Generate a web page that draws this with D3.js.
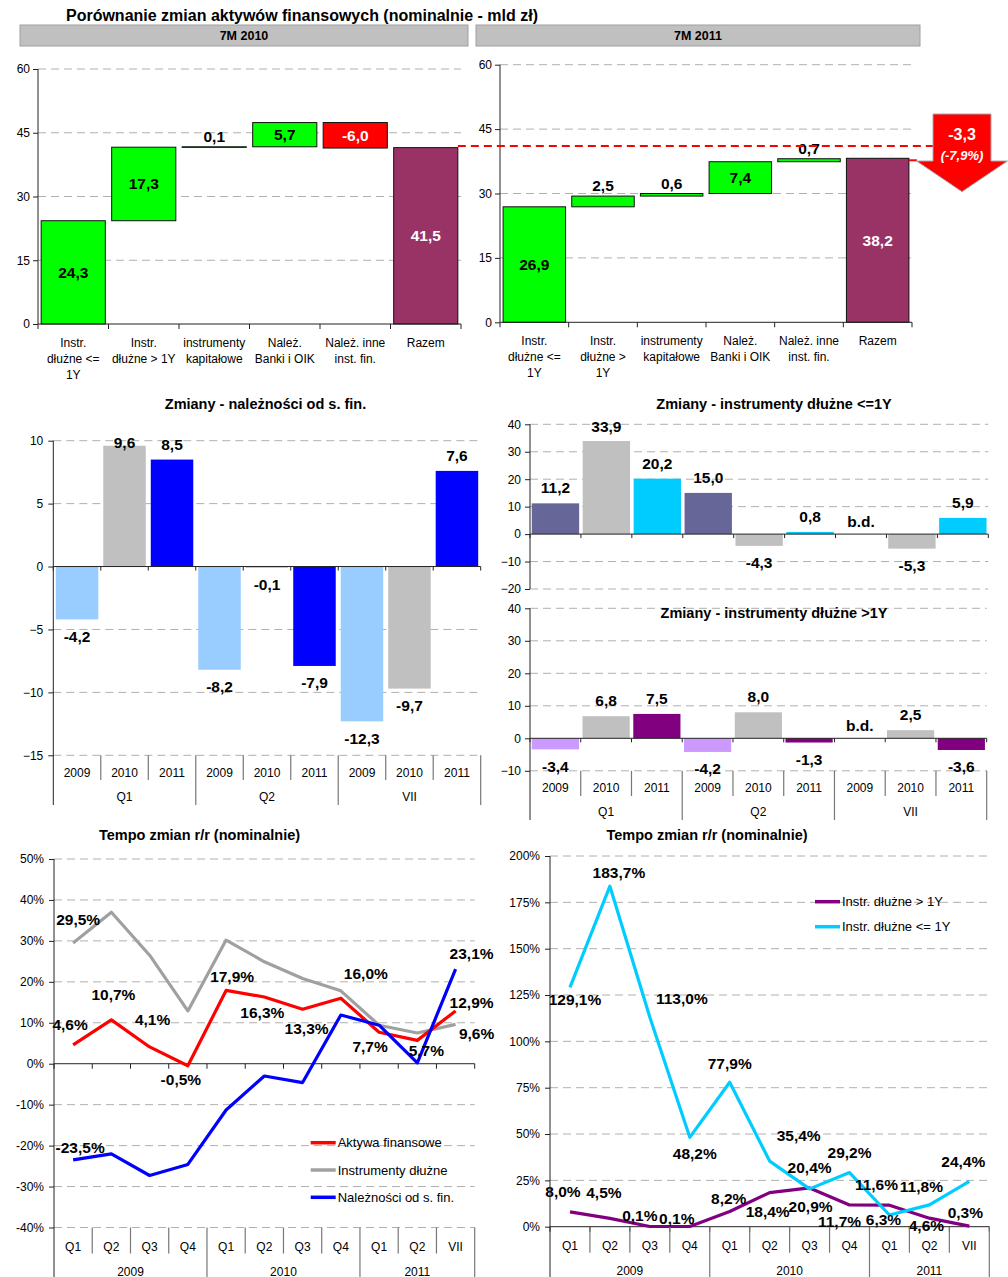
<!DOCTYPE html>
<html><head><meta charset="utf-8">
<script src="https://cdn.jsdelivr.net/npm/d3@7"></script>
<style>
body{margin:0;background:#fff;}
svg{display:block;font-family:"Liberation Sans",Arial,Helvetica,sans-serif;}
</style>
</head><body>
<svg id="c" width="1008" height="1277"></svg>
<script>
// ---------------- DATA ----------------
const tytulGlowny = "Porównanie zmian aktywów finansowych (nominalnie - mld zł)";
const naglowki = ["7M 2010", "7M 2011"];
const wfKategorie2010 = ["Instr.\ndłużne <=\n1Y","Instr.\ndłużne > 1Y","instrumenty\nkapitałowe","Należ.\nBanki i OIK","Należ. inne\ninst. fin.","Razem"];
const wfKategorie2011 = ["Instr.\ndłużne <=\n1Y","Instr.\ndłużne >\n1Y","instrumenty\nkapitałowe","Należ.\nBanki i OIK","Należ. inne\ninst. fin.","Razem"];
const wfZmiany2010 = [24.3, 17.3, 0.1, 5.7, -6.0];
const wfRazem2010 = 41.5;
const wfZmiany2011 = [26.9, 2.5, 0.6, 7.4, 0.7];
const wfRazem2011 = 38.2;
const wfTicks = [0, 15, 30, 45, 60];
const roznica = -3.3;
const roznicaPct = -7.9;

const lata = ["2009", "2010", "2011"];
const okresy = ["Q1", "Q2", "VII"];
const nalezZmiany      = [-4.2, 9.6, 8.5,  -8.2, -0.1, -7.9,  -12.3, -9.7, 7.6];
const dluzneLe1YZmiany = [11.2, 33.9, 20.2, 15.0, -4.3, 0.8,  null, -5.3, 5.9];
const dluzneGt1YZmiany = [-3.4, 6.8, 7.5,  -4.2, 8.0, -1.3,  null, 2.5, -3.6];
const nalezTicks = [-15, -10, -5, 0, 5, 10];
const le1YTicks = [-20, -10, 0, 10, 20, 30, 40];
const gt1YTicks = [-10, 0, 10, 20, 30, 40];

const kwartaly = ["Q1","Q2","Q3","Q4","Q1","Q2","Q3","Q4","Q1","Q2","VII"];
const lataKwartalow = ["2009", "2010", "2011"];
const liczbaOkresowWRoku = [4, 4, 3];
const tempoAktywa      = [4.6, 10.7, 4.1, -0.5, 17.9, 16.3, 13.3, 16.0, 7.7, 5.7, 12.9];
const tempoInstrDluzne = [29.5, 37.0, 26.5, 12.9, 30.2, 24.9, 20.8, 17.8, 9.4, 7.5, 9.6];
const tempoNalez       = [-23.5, -22.0, -27.3, -24.6, -11.3, -3.0, -4.6, 11.9, 9.4, 0.2, 23.1];
const tempoGt1Y        = [8.0, 4.5, 0.1, 0.1, 8.2, 18.4, 20.9, 11.7, 11.6, 4.6, 0.3];
const tempoLe1Y        = [129.1, 183.7, 113.0, 48.2, 77.9, 35.4, 20.4, 29.2, 6.3, 11.8, 24.4];
const tempoLewyTicks = [-40, -30, -20, -10, 0, 10, 20, 30, 40, 50];
const tempoPrawyTicks = [0, 25, 50, 75, 100, 125, 150, 175, 200];

// label placement (index, dx, dy) – offsets only
const etAktywa = [[0,-3,-20],[1,2,-25],[2,3,-27],[3,-7,14],[4,6,-14],[5,-2,16],[6,4,19],[7,25,-25],[8,-9,14],[9,9,10],[10,16,-8]];
const etInstr  = [[0,5,-23],[10,21,9]];
const etNalez  = [[0,7,-12],[10,16,-16]];
const etLe1Y = [[0,5,12],[1,9,-14],[2,32,-19],[3,5,16],[4,0,-19],[5,29,-26],[6,0,-21],[7,0,-20],[8,-6,5],[9,-8,-18],[10,-6,-20]];
const etGt1Y = [[0,-7,-20],[1,-6,-26],[2,-10,-11],[3,-13,-8],[4,-1,-13],[5,-2,19],[6,1,18.5],[7,-10,16.5],[8,-13,-21],[9,-3,7],[10,-4,-14]];

// ---------------- HELPERS ----------------
const svg = d3.select("#c");
const num = v => v.toFixed(1).replace(".", ",");
const pct = v => num(v) + "%";
const GRID = "#b0b0b0", DASH = "8,5", AX = "#222", SEP = "#777";
const LBL = 15.5;

function text(g, x, y, s, size, opts = {}) {
  return g.append("text").attr("x", x).attr("y", y).text(s)
    .attr("font-size", size).attr("text-anchor", opts.anchor || "middle")
    .attr("font-weight", opts.bold ? "bold" : "normal")
    .attr("font-style", opts.italic ? "italic" : "normal")
    .attr("fill", opts.fill || "#000")
    .attr("dy", opts.dy || null);
}

function yAxis(g, y, x0, ticks, fmt, pad, yTop, yEnd) {
  const a = d3.axisLeft(y).tickValues(ticks).tickFormat(fmt).tickSize(5).tickSizeOuter(0).tickPadding(pad);
  const ag = g.append("g").attr("transform", `translate(${x0},0)`).call(a);
  ag.select(".domain").remove();
  ag.selectAll("line").attr("stroke", AX);
  ag.selectAll("text").attr("font-size", 12).attr("font-family", null).attr("fill", "#000");
  g.append("line").attr("x1", x0).attr("x2", x0).attr("y1", yTop).attr("y2", yEnd).attr("stroke", AX);
}

function grid(g, y, ticks, x0, x1, skipZero) {
  g.selectAll(null).data(ticks.filter(t => !(skipZero && t === 0))).join("line")
    .attr("x1", x0).attr("x2", x1).attr("y1", d => y(d)).attr("y2", d => y(d))
    .attr("stroke", GRID).attr("stroke-dasharray", DASH);
}

// ---------------- TITLE + HEADERS ----------------
text(svg, 302, 21, tytulGlowny, 16, {bold: true});
const hdr = [{x: 20, w: 448, t: naglowki[0]}, {x: 476, w: 444, t: naglowki[1]}];
hdr.forEach(h => {
  svg.append("rect").attr("x", h.x).attr("y", 25).attr("width", h.w).attr("height", 21)
    .attr("fill", "#c0c0c0").attr("stroke", "#a0a0a0");
  text(svg, h.x + h.w / 2, 40, h.t, 12.5, {bold: true});
});

// ---------------- WATERFALLS ----------------
function waterfall(o) {
  const g = svg.append("g");
  const n = o.cats.length;
  const y = d3.scaleLinear().domain([0, 60]).range([o.yB, o.yT]);
  const x = d3.scaleBand().domain(d3.range(n)).range([o.x0, o.x1]).paddingInner(0.09).paddingOuter(0.045);
  grid(g, y, wfTicks.filter(t => t > 0), o.x0, o.x1, true);
  let cum = 0;
  const bars = o.deltas.map((d, i) => {
    const s = cum; cum += d;
    return {i, lo: Math.min(s, cum), hi: Math.max(s, cum), v: d,
            fill: d >= 0 ? "#00ff00" : "#ff0000", txt: d >= 0 ? "#000" : "#fff"};
  });
  bars.push({i: n - 1, lo: 0, hi: o.total, v: o.total, fill: "#993366", txt: "#fff"});
  g.selectAll(null).data(bars).join("rect")
    .attr("x", d => x(d.i)).attr("width", x.bandwidth())
    .attr("y", d => y(d.hi)).attr("height", d => Math.max(0.6, y(d.lo) - y(d.hi)))
    .attr("fill", d => d.fill).attr("stroke", "#111").attr("stroke-width", 1);
  bars.forEach(d => {
    const cx = x(d.i) + x.bandwidth() / 2;
    if (Math.abs(d.v) < 3) text(g, cx, y(d.hi) - 5, num(d.v), LBL, {bold: true});
    else text(g, cx, (y(d.hi) + y(d.lo)) / 2, num(d.v), LBL, {bold: true, fill: d.txt, dy: "0.35em"});
  });
  yAxis(g, y, o.x0, wfTicks, d3.format("d"), 3, o.yT, o.yB);
  g.append("line").attr("x1", o.x0).attr("x2", o.x1).attr("y1", o.yB).attr("y2", o.yB).attr("stroke", AX);
  d3.range(n + 1).forEach(i => {
    const bx = o.x0 + i * x.step();
    g.append("line").attr("x1", bx).attr("x2", bx).attr("y1", o.yB).attr("y2", o.yB + 5).attr("stroke", AX);
  });
  o.cats.forEach((c, i) => {
    const cx = x(i) + x.bandwidth() / 2;
    c.split("\n").forEach((ln, k) => text(g, cx, o.labY + k * 16, ln, 12));
  });
  return {x, y};
}
const wfL = waterfall({x0: 38, x1: 461, yT: 69, yB: 324, cats: wfKategorie2010, deltas: wfZmiany2010, total: wfRazem2010, labY: 347});
const wfR = waterfall({x0: 500, x1: 912, yT: 64.7, yB: 322.3, cats: wfKategorie2011, deltas: wfZmiany2011, total: wfRazem2011, labY: 345});

// dashed reference line + arrow
{
  const g = svg.append("g");
  const yRef = (wfR.y(wfRazem2010) + wfL.y(wfRazem2010)) / 2;
  const xStart = wfL.x(5) + wfL.x.bandwidth();
  g.append("line").attr("x1", xStart).attr("x2", 933).attr("y1", yRef).attr("y2", yRef)
    .attr("stroke", "#ff0000").attr("stroke-width", 2).attr("stroke-dasharray", "8,5");
  const yNew = wfR.y(wfRazem2011) + 2;
  g.append("line").attr("x1", wfR.x(5) + wfR.x.bandwidth()).attr("x2", 918).attr("y1", yNew).attr("y2", yNew)
    .attr("stroke", "#ff0000").attr("stroke-width", 2).attr("stroke-dasharray", "8,5");
  const cx = 962, top = 114, sh = 161, tip = 191.7;
  const pts = [[cx-29, top],[cx+29, top],[cx+29, sh],[cx+45.5, sh],[cx, tip],[cx-45.5, sh],[cx-29, sh]];
  g.append("polygon").attr("points", pts.map(p => p.join(",")).join(" "))
    .attr("fill", "#ff0000").attr("stroke", "#a8a8a8").attr("stroke-width", 1);
  text(g, cx, 140, num(roznica), 16, {bold: true, fill: "#fff"});
  text(g, cx, 159.5, "(" + pct(roznicaPct) + ")", 13, {bold: true, italic: true, fill: "#fff"});
}

// ---------------- GROUPED BARS ----------------
function groupedBars(o) {
  const g = svg.append("g");
  const n = o.values.length;
  const y = d3.scaleLinear().domain(o.domain).range([o.yB, o.yT]);
  const x = d3.scaleBand().domain(d3.range(n)).range([o.x0, o.x1]).paddingInner(o.pad).paddingOuter(o.pad / 2);
  grid(g, y, o.ticks, o.x0, o.x1, true);
  const data = o.values.map((v, i) => ({v, i})).filter(d => d.v !== null);
  g.selectAll(null).data(data).join("rect")
    .attr("x", d => x(d.i)).attr("width", x.bandwidth())
    .attr("y", d => y(Math.max(0, d.v))).attr("height", d => Math.abs(y(d.v) - y(0)))
    .attr("fill", d => o.colors[d.i % 3]);
  const y0 = y(0);
  g.append("line").attr("x1", o.x0).attr("x2", o.x1).attr("y1", y0).attr("y2", y0).attr("stroke", AX);
  d3.range(n + 1).forEach(i => {
    const bx = o.x0 + i * x.step();
    g.append("line").attr("x1", bx).attr("x2", bx).attr("y1", y0).attr("y2", y0 + 4).attr("stroke", AX);
  });
  o.values.forEach((v, i) => {
    const cx = x(i) + x.bandwidth() / 2;
    if (v === null) text(g, cx, y0 - 13, "b.d.", LBL, {bold: true, dy: "0.35em"});
    else if (v >= 0) text(g, cx, Math.max(y(v) - 15.5, o.yT + 2), num(v), LBL, {bold: true, dy: "0.35em"});
    else text(g, cx, y(v) + 17, num(v), LBL, {bold: true, dy: "0.35em"});
  });
  yAxis(g, y, o.x0, o.ticks, d3.format("d"), o.tickPad, o.yT, o.axisEnd);
  if (o.yearY) {
    const yb = o.yB;
    d3.range(1, n).forEach(i => {
      const bx = o.x0 + i * x.step();
      const grp = i % 3 === 0;
      g.append("line").attr("x1", bx).attr("x2", bx).attr("y1", yb).attr("y2", grp ? o.axisEnd : o.sepInner)
        .attr("stroke", SEP).attr("stroke-width", 1.2);
    });
    g.append("line").attr("x1", o.x1).attr("x2", o.x1).attr("y1", yb).attr("y2", o.axisEnd).attr("stroke", SEP).attr("stroke-width", 1.2);
    d3.range(n).forEach(i => text(g, x(i) + x.bandwidth() / 2, o.yearY, lata[i % 3], 12));
    okresy.forEach((p, k) => text(g, o.x0 + (k * 3 + 1.5) * x.step(), o.groupY, p, 12));
  }
  text(g, o.titleX, o.titleY, o.title, 14.5, {bold: true});
}
groupedBars({x0: 53.3, x1: 480.7, yT: 440.7, yB: 755.3, domain: [-15, 10], ticks: nalezTicks, values: nalezZmiany,
  colors: ["#99ccff", "#c0c0c0", "#0000ff"], pad: 0.105, tickPad: 5, axisEnd: 805, sepInner: 780,
  yearY: 777, groupY: 801, title: "Zmiany - należności od s. fin.", titleX: 265.5, titleY: 408.5});
groupedBars({x0: 530, x1: 988.3, yT: 424.3, yB: 589, domain: [-20, 40], ticks: le1YTicks, values: dluzneLe1YZmiany,
  colors: ["#666699", "#c0c0c0", "#00ccff"], pad: 0.07, tickPad: 4, axisEnd: 589,
  title: "Zmiany - instrumenty dłużne <=1Y", titleX: 774, titleY: 408.5});
groupedBars({x0: 530, x1: 986.7, yT: 608.3, yB: 770.8, domain: [-10, 40], ticks: gt1YTicks, values: dluzneGt1YZmiany,
  colors: ["#cc99ff", "#c0c0c0", "#800080"], pad: 0.07, tickPad: 4, axisEnd: 820, sepInner: 796,
  yearY: 792, groupY: 816, title: "Zmiany - instrumenty dłużne >1Y", titleX: 774, titleY: 618});

// ---------------- LINE CHARTS ----------------
function lineChart(o) {
  const g = svg.append("g");
  const n = kwartaly.length;
  const y = d3.scaleLinear().domain(o.domain).range([o.yB, o.yT]);
  const x = d3.scaleBand().domain(d3.range(n)).range([o.x0, o.x1]).padding(0);
  const cx = i => x(i) + x.step() / 2;
  grid(g, y, o.ticks, o.x0, o.x1, true);
  const y0 = y(0);
  g.append("line").attr("x1", o.x0).attr("x2", o.x1).attr("y1", y0).attr("y2", y0).attr("stroke", AX);
  d3.range(n + 1).forEach(i => {
    const bx = o.x0 + i * x.step();
    g.append("line").attr("x1", bx).attr("x2", bx).attr("y1", y0).attr("y2", y0 + 5).attr("stroke", AX);
  });
  const line = d3.line().x((d, i) => cx(i)).y(d => y(d));
  o.series.forEach(s => {
    g.append("path").attr("d", line(s.values)).attr("fill", "none").attr("stroke", s.color)
      .attr("stroke-width", 3.2).attr("stroke-linejoin", "round");
  });
  o.series.forEach(s => {
    s.labels.forEach(([i, dx, dy]) => text(g, cx(i) + dx, y(s.values[i]) + dy, pct(s.values[i]), LBL, {bold: true, dy: "0.35em"}));
  });
  yAxis(g, y, o.x0, o.ticks, d => d + "%", 5, o.yT, 1277);
  // x labels
  const yb = o.yB;
  let acc = 0;
  const bounds = liczbaOkresowWRoku.map(c => (acc += c));
  d3.range(1, n + 1).forEach(i => {
    const bx = o.x0 + i * x.step();
    const grp = bounds.includes(i);
    g.append("line").attr("x1", bx).attr("x2", bx).attr("y1", yb).attr("y2", grp ? 1277 : yb + 26)
      .attr("stroke", SEP).attr("stroke-width", 1.2);
  });
  kwartaly.forEach((q, i) => text(g, cx(i), yb + 23, q, 12));
  let st = 0;
  lataKwartalow.forEach((r, k) => {
    const c = liczbaOkresowWRoku[k];
    text(g, o.x0 + (st + c / 2) * x.step(), yb + 48, r, 12);
    st += c;
  });
  // legend
  o.legend.forEach((s, k) => {
    const ly = o.legY + k * o.legStep;
    g.append("line").attr("x1", o.legX).attr("x2", o.legX + 25).attr("y1", ly).attr("y2", ly)
      .attr("stroke", s.color).attr("stroke-width", 3.5);
    text(g, o.legX + 27, ly, s.name, 13, {anchor: "start", dy: "0.35em"});
  });
  text(g, o.titleX, 840, "Tempo zmian r/r (nominalnie)", 14.5, {bold: true});
}
const sAktywa = {name: "Aktywa finansowe", color: "#ff0000", values: tempoAktywa, labels: etAktywa};
const sInstr = {name: "Instrumenty dłużne", color: "#a0a0a0", values: tempoInstrDluzne, labels: etInstr};
const sNalez = {name: "Należności od s. fin.", color: "#0000ff", values: tempoNalez, labels: etNalez};
lineChart({x0: 54, x1: 474.7, yT: 859, yB: 1227.5, domain: [-40, 50], ticks: tempoLewyTicks,
  series: [sInstr, sAktywa, sNalez], legend: [sAktywa, sInstr, sNalez], legX: 310.7, legY: 1142.7, legStep: 27.3, titleX: 199.5});
const sGt1Y = {name: "Instr. dłużne > 1Y", color: "#800080", values: tempoGt1Y, labels: etGt1Y};
const sLe1Y = {name: "Instr. dłużne <= 1Y", color: "#00ccff", values: tempoLe1Y, labels: etLe1Y};
lineChart({x0: 550, x1: 989.3, yT: 856, yB: 1226.7, domain: [0, 200], ticks: tempoPrawyTicks,
  series: [sGt1Y, sLe1Y], legend: [sGt1Y, sLe1Y], legX: 815, legY: 901.7, legStep: 25, titleX: 707});
</script>
</body></html>
